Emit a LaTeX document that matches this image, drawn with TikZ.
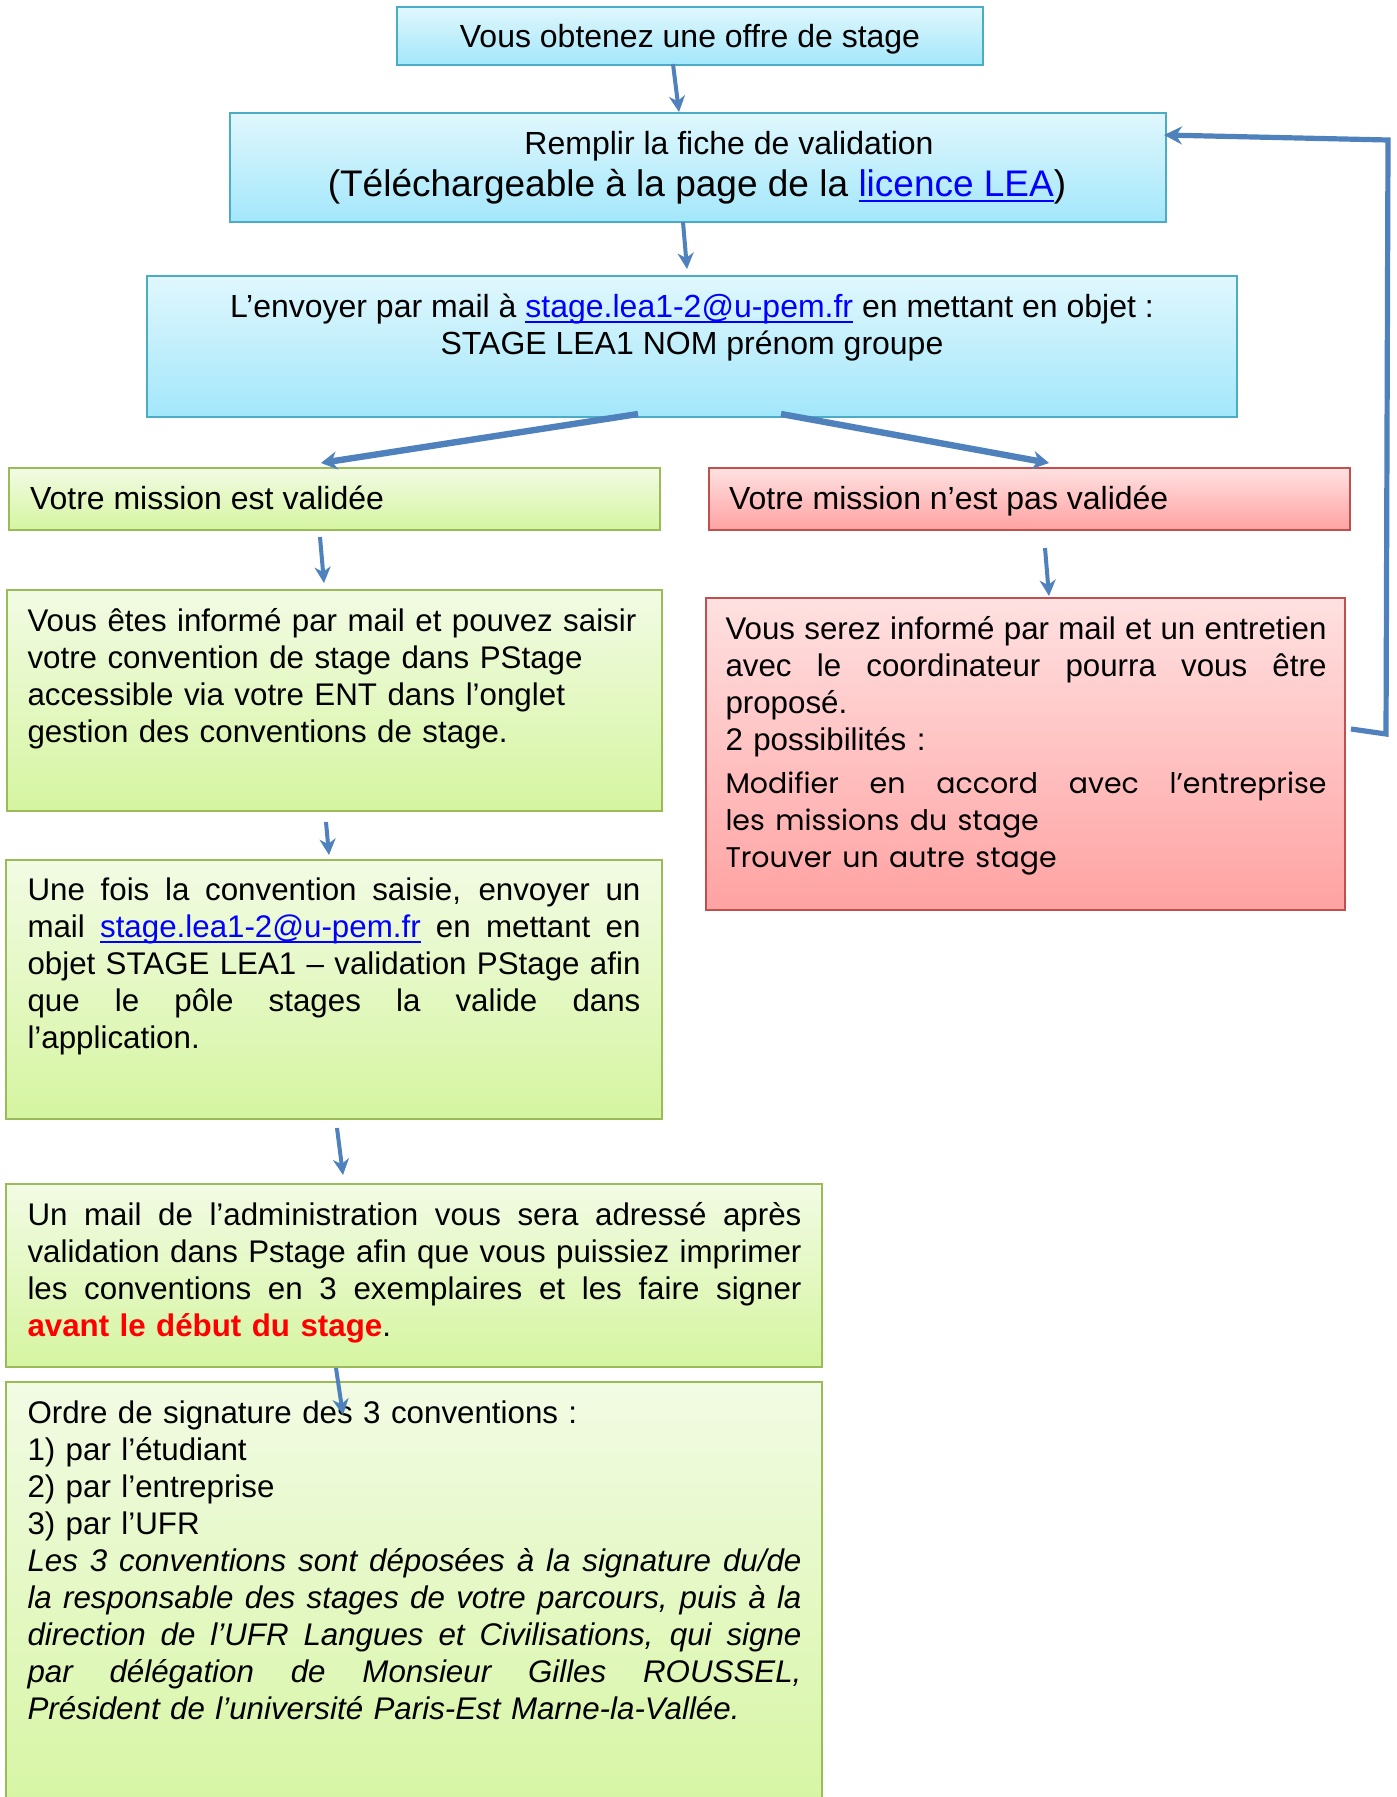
\documentclass[tikz,border=0pt]{standalone}
\usepackage{fontspec}
\setmainfont{Liberation Sans}
\newfontfamily\gothic{Poppins}
\usetikzlibrary{arrows.meta,calc}
\definecolor{bluetop}{HTML}{E0F7FD}
\definecolor{bluebot}{HTML}{A3E7FB}
\definecolor{blueborder}{HTML}{4BACC6}
\definecolor{greentop}{HTML}{F2FBE4}
\definecolor{greenbot}{HTML}{D5F5A0}
\definecolor{greenborder}{HTML}{9BBB59}
\definecolor{redtop}{HTML}{FFE1E1}
\definecolor{redbot}{HTML}{FFA2A2}
\definecolor{redborder}{HTML}{C0504D}
\definecolor{arrowblue}{HTML}{4F81BD}
\definecolor{linkblue}{HTML}{0000FF}
\definecolor{alertred}{HTML}{FF0000}
\newcommand\lnk[1]{\setbox0\hbox{{\color{linkblue}#1}}\rlap{{\color{linkblue}\rule[-2.6pt]{\wd0}{1pt}}}\box0\relax}
\newcommand\sline[2]{\makebox[#1][s]{\spaceskip=\fontdimen2\font plus 1fil minus .4\fontdimen2\font\relax #2}}
\newcommand\parafont{\fontsize{15.65}{18.5}\selectfont}
\newcommand\gfont{\gothic\fontsize{14.2}{18.5}\selectfont}
\tikzset{
  fillbox/.style={draw, line width=1.2pt, anchor=north west, inner sep=0pt, outer sep=0pt},
  bluebox/.style={fillbox, draw=blueborder, top color=bluetop, bottom color=bluebot},
  greenbox/.style={fillbox, draw=greenborder, top color=greentop, bottom color=greenbot},
  redbox/.style={fillbox, draw=redborder, top color=redtop, bottom color=redbot},
  txt/.style={inner sep=0pt, outer sep=0pt, text=black},
  para/.style={txt, anchor=north west, align=left, text width=#1, font=\parafont},
  arr/.style={draw=arrowblue, line width=2pt, -{Stealth[length=8pt,width=8pt,inset=2.5pt]}},
  arrthick/.style={draw=arrowblue, line width=3.2pt, -{Stealth[length=8pt,width=9pt,inset=2.5pt]}},
  backline/.style={draw=arrowblue, line width=2.6pt, line join=miter, -{Stealth[length=9pt,width=9pt,inset=3pt]}},
}
\begin{document}
\begin{tikzpicture}[x=0.5pt,y=-0.5pt,font=\fontsize{16}{18.5}\selectfont]
\useasboundingbox (0,0) rectangle (1396,1797);
\clip (0,0) rectangle (1396,1797);
% boxes
\node[bluebox, minimum width=293pt, minimum height=29pt] (b1) at (397,7) {};
\node[bluebox, minimum width=468pt, minimum height=54.5pt] (b2) at (230,113) {};
\node[bluebox, minimum width=545pt, minimum height=70.5pt] (b3) at (147,276) {};
\node[greenbox, minimum width=325.5pt, minimum height=31pt] (b4) at (9,468) {};
\node[redbox, minimum width=320.5pt, minimum height=31pt] (b5) at (709,468) {};
\node[greenbox, minimum width=327.5pt, minimum height=110.5pt] (b6) at (7,590) {};
\node[redbox, minimum width=319.5pt, minimum height=156pt] (b7) at (706,598) {};
\node[greenbox, minimum width=328pt, minimum height=129.5pt] (b8) at (6,860) {};
\node[greenbox, minimum width=408pt, minimum height=91.5pt] (b9) at (6,1184) {};
\node[greenbox, minimum width=408pt, minimum height=224pt] (b10) at (6,1382) {};
% texts
\node[txt, anchor=base] (t1) at (690,48) {Vous obtenez une offre de stage};
\node[txt, anchor=base] (t2a) at (729,155) {Remplir la fiche de validation};
\node[txt, anchor=base, font=\fontsize{18.5}{21}\selectfont] (t2b) at (697,197) {(Téléchargeable à la page de la \lnk{licence LEA})};
\node[txt, anchor=north, align=center] (t3) at (692,287.5) {\rule{0pt}{15pt}L’envoyer par mail à \lnk{stage.lea1-2@u-pem.fr} en mettant en objet :\\STAGE LEA1 NOM prénom groupe};
\node[txt, anchor=base west] (t4) at (30,509) {Votre mission est validée};
\node[txt, anchor=base west] (t5) at (729,509) {Votre mission n’est pas validée};
\node[para=320pt] (t6) at (27.5,601.5) {\rule{0pt}{15pt}Vous êtes informé par mail et pouvez saisir\\votre convention de stage dans PStage\\accessible via votre ENT dans l’onglet\\gestion des conventions de stage.};
\node[para=320pt] (t7) at (725.5,609.5) {\rule{0pt}{15pt}\sline{300.5pt}{Vous serez informé par mail et un entretien}\\
\sline{300.5pt}{avec le coordinateur pourra vous être}\\
proposé.\\
2 possibilités :\\[2.75pt]
{\gfont\sline{300.5pt}{Modifier en accord avec l’entreprise}}\\
{\gfont les missions du stage}\\
{\gfont Trouver un autre stage}};
\node[para=320pt] (t8) at (27.5,870.5) {\rule{0pt}{15pt}\sline{306.5pt}{Une fois la convention saisie, envoyer un}\\
\sline{306.5pt}{mail \lnk{stage.lea1-2@u-pem.fr} en mettant en}\\
\sline{306.5pt}{objet STAGE LEA1 – validation PStage afin}\\
\sline{306.5pt}{que le pôle stages la valide dans}\\
l’application.};
\node[para=400pt] (t9) at (27.5,1195) {\rule{0pt}{15pt}\sline{387pt}{Un mail de l’administration vous sera adressé après}\\
\sline{387pt}{validation dans Pstage afin que vous puissiez imprimer}\\
\sline{387pt}{les conventions en 3 exemplaires et les faire signer}\\
{\color{alertred}\bfseries avant le début du stage}.};
\node[para=400pt] (t10) at (27.5,1393.5) {\rule{0pt}{15pt}Ordre de signature des 3 conventions :\\
1) par l’étudiant\\
2) par l’entreprise\\
3) par l’UFR\\
{\itshape\sline{387pt}{Les 3 conventions sont déposées à la signature du/de}}\\
{\itshape\sline{387pt}{la responsable des stages de votre parcours, puis à la}}\\
{\itshape\sline{387pt}{direction de l’UFR Langues et Civilisations, qui signe}}\\
{\itshape\sline{387pt}{par délégation de Monsieur Gilles ROUSSEL,}}\\
{\itshape Président de l’université Paris-Est Marne-la-Vallée.}};
% connectors
\draw[arr] ($(b1.south west)+(276,-1)$) -- ($(b2.north west)+(449,-1)$);
\draw[arr] ($(b2.south west)+(453,0)$) -- ($(b3.north west)+(540,-7)$);
\draw[arrthick] ($(b3.south west)+(491,-3)$) -- ($(b4.north west)+(312,-5)$);
\draw[arrthick] ($(b3.south west)+(634,-3)$) -- ($(b5.north west)+(340,-5)$);
\draw[arr] ($(b4.south west)+(311,7)$) -- ($(b6.north west)+(317,-7)$);
\draw[arr] ($(b5.south west)+(336,18)$) -- ($(b7.north west)+(343,-2)$);
\draw[arr] ($(b6.south west)+(319,11)$) -- ($(b8.north west)+(323,-5)$);
\draw[arr] ($(b8.south west)+(331,9)$) -- ($(b9.north west)+(337,-9)$);
\draw[arr] ($(b9.south west)+(330,1)$) -- ($(b10.north west)+(337,33)$);
\coordinate (c1) at (1386,734);
\coordinate (c2) at (1388,140);
\draw[backline] ($(b7.north east)+(6,131)$) -- (c1) -- (c2) -- ($(b2.north east)+(-2,22)$);
\end{tikzpicture}
\end{document}
